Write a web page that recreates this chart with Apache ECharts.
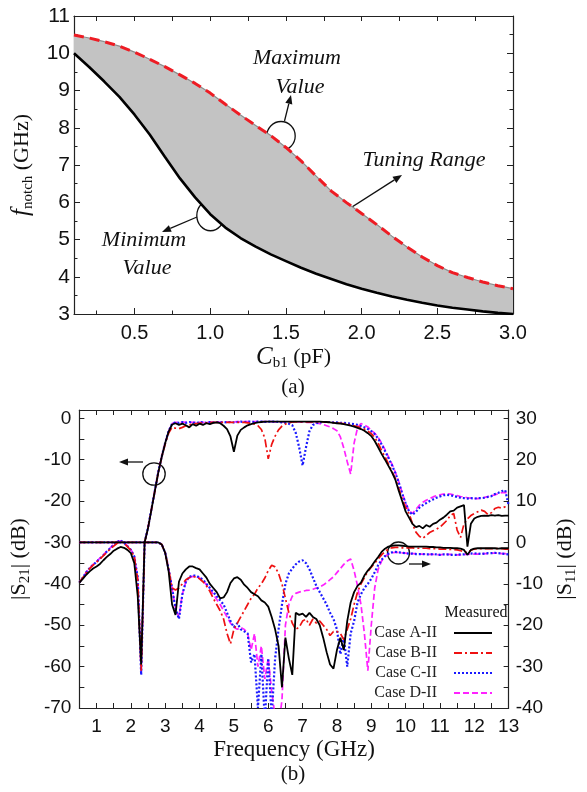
<!DOCTYPE html>
<html>
<head>
<meta charset="utf-8">
<script src="https://cdn.jsdelivr.net/npm/echarts@6.0.0/dist/echarts.min.js"></script>
<style>
    html, body { margin: 0; padding: 0; background: #fff; }
    #chart { width: 587px; height: 792px; }
</style>
</head>
<body>
<div id="chart"></div>
<script>
// ---- panel (a): notch frequency vs Cb1 ----
const capVals = [0.1, 0.2, 0.3, 0.4, 0.5, 0.6, 0.7, 0.8, 0.9, 1.0,
    1.1, 1.2, 1.3, 1.4, 1.5, 1.6, 1.7, 1.8, 1.9, 2.0,
    2.1, 2.2, 2.3, 2.4, 2.5, 2.6, 2.7, 2.8, 2.9, 3.0];
const fMax = [10.49, 10.41, 10.31, 10.19, 10.03, 9.84, 9.64, 9.42, 9.19, 8.93,
    8.63, 8.34, 8.06, 7.79, 7.47, 7.11, 6.70, 6.30, 5.99, 5.70,
    5.40, 5.09, 4.80, 4.53, 4.30, 4.11, 3.98, 3.86, 3.76, 3.68];
const fMin = [10.00, 9.63, 9.24, 8.83, 8.35, 7.82, 7.22, 6.64, 6.13, 5.68,
    5.32, 5.04, 4.81, 4.60, 4.42, 4.24, 4.08, 3.94, 3.80, 3.68,
    3.57, 3.47, 3.38, 3.30, 3.23, 3.17, 3.12, 3.07, 3.03, 3.00];
const capLabels = [0.5, 1.0, 1.5, 2.0, 2.5, 3.0];
const capMinor = [0.25, 0.75, 1.25, 1.75, 2.25, 2.75];
const capTop = [0.25, 0.5, 0.75, 1.0, 1.25, 1.5, 1.75, 2.0, 2.25, 2.5, 2.75];

// ---- panel (b): measured S-parameters, 0.5 .. 13 GHz every 0.1 GHz ----
const freq = [];
for (let i = 0; i <= 125; i++) freq.push(+(0.5 + i * 0.1).toFixed(1));

const caseNames = ["Case A-II", "Case B-II", "Case C-II", "Case D-II"];

// |S21| (dB), left axis
const s21A = [
    -39.7, -38.8, -37.8, -37.0, -36.3, -35.8, -35.2, -34.3, -33.5, -32.8,
    -32.0, -31.5, -31.1, -31.3, -31.8, -32.6, -35.0, -43.0, -59.5, -30.0,
    -26.5, -22.0, -17.5, -13.0, -9.3, -6.0, -3.2, -1.5, -1.2, -1.6,
    -1.3, -1.7, -2.2, -1.4, -1.8, -1.3, -1.6, -1.2, -1.4, -1.1,
    -1.0, -1.2, -1.8, -2.6, -4.4, -8.1, -4.2, -2.8, -2.2, -1.7,
    -1.4, -1.2, -1.0, -0.9, -0.8, -0.8, -0.8, -0.8, -0.8, -0.8,
    -0.8, -0.8, -0.8, -0.8, -0.8, -0.8, -0.8, -0.8, -0.8, -0.8,
    -0.8, -0.85, -0.9, -1.0, -1.1, -1.2, -1.3, -1.4, -1.6, -1.8,
    -2.0, -2.3, -2.6, -3.0, -3.6, -4.3, -5.5, -7.0, -8.6, -10.0,
    -11.5, -13.0, -14.8, -17.5, -20.0, -22.5, -24.0, -25.5, -26.3, -26.0,
    -26.6, -25.8, -26.2, -25.5, -25.2, -24.5, -24.0, -23.3, -22.5, -22.3,
    -21.6, -21.3, -21.0, -31.0, -25.5, -24.2, -23.8, -23.6, -23.5, -23.6,
    -23.4, -23.5, -23.4, -23.6, -23.5, -23.5];
const s21B = [
    -39.7, -38.5, -37.3, -36.3, -35.5, -34.8, -34.0, -33.2, -32.4, -31.6,
    -30.9, -30.2, -29.8, -30.2, -31.0, -31.9, -33.5, -39.0, -61.0, -30.0,
    -26.5, -22.0, -17.5, -13.0, -9.3, -6.2, -3.6, -2.2, -2.4, -2.5,
    -2.2, -1.8, -1.6, -1.4, -1.3, -1.2, -1.1, -1.1, -1.0, -1.0,
    -1.0, -1.0, -1.0, -1.0, -1.0, -1.0, -1.0, -1.0, -1.0, -1.1,
    -1.2, -1.4, -1.8, -2.7, -4.8, -9.8, -6.3, -4.3, -2.8, -1.9,
    -1.4, -1.1, -0.9, -0.9, -0.9, -0.9, -0.9, -0.9, -0.9, -0.9,
    -0.9, -0.9, -0.95, -1.0, -1.05, -1.1, -1.2, -1.3, -1.4, -1.6,
    -1.8, -2.0, -2.3, -2.6, -3.1, -3.7, -4.6, -6.0, -7.8, -9.3,
    -11.0, -12.8, -14.5, -17.0, -19.5, -21.5, -23.0, -25.5, -27.5, -28.5,
    -29.0, -28.3, -27.6, -27.2, -26.8, -26.3, -25.5, -24.7, -23.5, -23.0,
    -27.0, -28.8, -25.5, -24.3, -23.5, -23.0, -22.6, -22.2, -22.5, -23.3,
    -22.8, -21.8, -21.5, -21.7, -21.4, -21.4];
const s21C = [
    -39.7, -38.5, -37.2, -36.2, -35.4, -34.7, -33.9, -33.1, -32.2, -31.4,
    -30.6, -29.9, -29.5, -30.1, -30.9, -31.8, -33.4, -38.5, -62.0, -30.0,
    -26.4, -21.9, -17.4, -12.9, -9.2, -5.9, -3.1, -1.3, -1.0, -1.1,
    -0.9, -1.1, -0.9, -1.0, -1.2, -0.9, -1.0, -1.1, -0.9, -1.0,
    -0.9, -1.0, -0.9, -1.0, -0.9, -1.0, -0.9, -0.8, -0.9, -0.8,
    -0.8, -0.9, -0.8, -0.8, -0.9, -0.8, -0.8, -0.8, -0.9, -1.0,
    -1.1, -1.3, -1.7, -3.5, -7.0, -11.4, -7.0, -3.1, -1.6, -1.2,
    -1.0, -0.9, -0.9, -0.9, -1.0, -1.0, -1.1, -1.1, -1.2, -1.3,
    -1.4, -1.6, -1.9, -2.2, -2.6, -3.1, -3.8, -4.9, -6.3, -7.9,
    -9.6, -11.3, -13.2, -15.5, -18.2, -20.5, -22.5, -23.3, -22.6, -21.6,
    -21.0, -20.5, -20.0, -19.6, -19.2, -18.9, -18.6, -18.5, -18.6, -18.8,
    -19.0, -19.2, -19.3, -19.4, -19.3, -19.4, -19.3, -19.3, -19.2, -19.0,
    -18.8, -18.3, -18.0, -17.6, -17.4, -21.0];
const s21D = [
    -39.7, -38.5, -37.2, -36.2, -35.3, -34.6, -33.8, -33.0, -32.1, -31.3,
    -30.5, -29.8, -29.6, -30.0, -30.8, -31.7, -33.3, -38.7, -61.5, -30.0,
    -26.4, -21.9, -17.4, -12.9, -9.2, -5.9, -3.1, -1.3, -1.0, -1.0,
    -1.0, -0.9, -1.0, -1.0, -0.9, -1.0, -1.0, -0.9, -1.0, -0.9,
    -0.9, -0.9, -1.0, -0.9, -0.9, -0.9, -0.8, -0.9, -0.8, -0.8,
    -0.8, -0.8, -0.8, -0.8, -0.8, -0.8, -0.8, -0.9, -0.9, -0.9,
    -0.9, -0.9, -0.9, -0.9, -0.9, -0.9, -1.0, -1.0, -1.0, -1.1,
    -1.3, -1.5, -1.8, -2.1, -2.5, -3.0, -4.5, -7.2, -10.5, -13.5,
    -6.0, -2.3, -1.3, -1.6, -2.1, -2.9, -3.6, -4.6, -6.0, -7.6,
    -9.3, -11.0, -13.0, -15.3, -18.0, -20.5, -22.3, -23.0, -22.0, -21.0,
    -20.3, -19.8, -19.4, -19.0, -18.7, -18.5, -18.3, -18.2, -18.3, -18.5,
    -18.7, -18.9, -19.0, -19.2, -19.3, -19.4, -19.4, -19.2, -19.1, -18.9,
    -18.7, -18.5, -18.2, -18.0, -17.9, -18.2];

// |S11| (dB), right axis
const s11A = [
    0, 0, 0, 0, 0, 0, 0, 0, 0, 0,
    0, 0, 0, 0, 0, 0, 0, 0, 0, 0,
    0, 0, 0, 0, -0.5, -2.5, -7.0, -15.0, -17.5, -9.5,
    -7.5, -6.5, -5.8, -5.8, -6.2, -6.5, -7.5, -8.5, -10.0, -11.0,
    -12.0, -13.5, -13.3, -12.0, -9.8, -8.7, -8.4, -9.0, -10.2, -11.0,
    -12.0, -12.5, -13.0, -14.0, -14.5, -15.5, -18.0, -21.0, -25.0, -35.0,
    -23.0, -28.0, -32.0, -17.0, -17.5, -17.2, -18.0, -17.0, -18.0, -18.5,
    -20.0, -23.0, -26.5, -29.5, -30.5, -26.0, -23.0, -26.0, -19.0, -14.5,
    -12.0, -10.5, -9.7, -8.0, -6.8, -5.8, -4.6, -3.5, -2.3, -1.5,
    -1.0, -0.8, -0.7, -0.7, -0.8, -0.9, -1.0, -1.0, -1.0, -1.0,
    -1.0, -1.0, -1.1, -1.1, -1.2, -1.2, -1.3, -1.3, -1.3, -1.4,
    -1.4, -1.5, -1.8, -3.0, -1.8, -1.5, -1.4, -1.4, -1.4, -1.4,
    -1.4, -1.4, -1.5, -1.4, -1.4, -1.4];
const s11B = [
    0, 0, 0, 0, 0, 0, 0, 0, 0, 0,
    0, 0, 0, 0, 0, 0, 0, 0, 0, 0,
    0, 0, 0, 0, -0.5, -2.5, -6.5, -11.0, -11.5, -11.0,
    -10.0, -9.0, -8.5, -8.3, -8.3, -8.8, -9.5, -10.5, -11.8, -13.5,
    -15.0, -16.5, -18.5, -22.0, -24.5, -21.0, -19.5, -18.0, -16.5, -15.0,
    -13.5, -12.5, -11.0, -10.0, -8.6, -6.8, -5.5, -5.9, -7.5, -10.0,
    -13.5, -17.0, -19.5, -21.0, -20.5, -19.0, -18.5, -20.0, -18.5, -19.5,
    -19.0, -20.0, -21.0, -22.5, -21.5, -21.5, -22.0, -23.5, -21.0, -18.5,
    -15.0, -12.0, -10.0, -8.5, -7.0, -6.0, -5.0, -4.0, -3.0, -2.2,
    -1.6, -1.3, -1.2, -1.2, -1.3, -1.3, -1.3, -1.3, -1.4, -1.4,
    -1.4, -1.4, -1.5, -1.5, -1.5, -1.6, -1.6, -1.6, -1.7, -1.7,
    -1.8, -2.0, -2.2, -2.5, -1.9, -1.6, -1.5, -1.5, -1.5, -1.5,
    -1.5, -1.5, -1.5, -1.5, -1.6, -1.6];
const s11C = [
    0, 0, 0, 0, 0, 0, 0, 0, 0, 0,
    0, 0, 0, 0, 0, 0, 0, 0, 0, 0,
    0, 0, 0, 0, -0.5, -2.5, -6.5, -11.0, -16.0, -18.5,
    -12.5, -9.5, -8.3, -8.0, -8.0, -8.5, -9.0, -10.0, -11.0, -12.0,
    -13.0, -14.0, -15.0, -17.0, -19.0, -20.5, -19.5, -21.0, -21.5, -22.0,
    -29.0, -27.0, -40.0, -27.0, -43.0, -28.0, -42.0, -28.0, -21.0, -15.0,
    -10.0, -7.5, -6.3, -5.3, -4.6, -4.3, -5.0, -6.5, -8.5, -10.5,
    -12.0, -13.5, -15.0, -17.0, -18.5, -21.0, -27.0, -23.0, -30.0, -22.0,
    -19.0, -14.5, -12.5, -11.0, -10.0, -8.8, -7.2, -5.5, -4.2, -3.3,
    -2.7, -2.4, -2.3, -2.4, -2.5, -2.6, -2.7, -2.7, -2.8, -2.8,
    -2.8, -2.9, -2.9, -2.8, -2.9, -3.0, -2.9, -2.9, -3.0, -3.0,
    -3.0, -2.9, -2.9, -2.8, -2.7, -2.6, -2.7, -2.8, -2.7, -2.6,
    -2.6, -2.5, -2.6, -2.7, -2.8, -2.9];
const s11D = [
    0, 0, 0, 0, 0, 0, 0, 0, 0, 0,
    0, 0, 0, 0, 0, 0, 0, 0, 0, 0,
    0, 0, 0, 0, -0.5, -2.5, -6.5, -11.0, -16.0, -18.0,
    -12.5, -9.5, -8.5, -8.2, -8.2, -8.6, -9.2, -10.2, -11.3, -12.5,
    -13.8, -15.0, -16.5, -18.0, -19.5, -20.5, -21.0, -20.5, -21.0, -22.0,
    -26.0, -22.0, -30.0, -25.0, -33.0, -28.0, -36.0, -42.0, -45.0, -38.0,
    -20.0, -15.0, -13.0, -12.3, -12.0, -11.8, -11.6, -11.5, -11.3, -11.0,
    -10.8, -10.3, -9.7, -9.0, -8.3, -7.3, -6.3, -5.3, -4.5, -4.0,
    -6.8, -10.5, -15.0, -22.0, -31.0, -20.0, -11.0, -6.5, -4.5, -3.4,
    -2.8, -2.5, -2.4, -2.4, -2.5, -2.6, -2.7, -2.7, -2.7, -2.8,
    -2.8, -2.8, -2.9, -2.9, -2.9, -3.0, -2.9, -2.9, -2.9, -3.0,
    -3.0, -3.0, -2.9, -2.9, -2.8, -2.8, -2.8, -2.7, -2.7, -2.7,
    -2.6, -2.6, -2.6, -2.7, -2.7, -2.8];

const SANS = "Liberation Sans";
const SERIF = "Liberation Serif";
const INK = "#111";

function pairs(xs, ys) {
    return xs.map(function (x, i) { return [x, ys[i]]; });
}

function frameAxis(extra) {
    return Object.assign({
        type: "value",
        axisLine: { show: true, onZero: false, lineStyle: { color: "#222", width: 1.2 } },
        axisTick: { show: true, inside: true, length: 5, lineStyle: { color: "#222", width: 1 } },
        axisLabel: { show: false },
        splitLine: { show: false },
    }, extra);
}

// arrow = shaft + filled head
function arrow(x1, y1, x2, y2) {
    const a = Math.atan2(y2 - y1, x2 - x1);
    const len = 9, half = 3.6;
    const bx = x2 - len * Math.cos(a), by = y2 - len * Math.sin(a);
    const px = -Math.sin(a) * half, py = Math.cos(a) * half;
    return [
        { type: "line", shape: { x1: x1, y1: y1, x2: bx, y2: by }, style: { stroke: INK, lineWidth: 1.3 } },
        { type: "polygon", shape: { points: [[x2, y2], [bx + px, by + py], [bx - px, by - py]] }, style: { fill: INK } },
    ];
}

function ring(cx, cy, rx, ry) {
    return {
        type: "circle", x: cx, y: cy, scaleY: ry / rx,
        shape: { cx: 0, cy: 0, r: rx },
        style: { fill: "transparent", stroke: INK, lineWidth: 1.3, strokeNoScale: true },
    };
}

function label(x, y, text, font) {
    return {
        type: "text", x: x, y: y,
        style: { text: text, font: font, fill: INK, align: "center", verticalAlign: "middle", textAlign: "center", textVerticalAlign: "middle" },
    };
}

const ITALIC = "italic 22px '" + SERIF + "'";

let chart = echarts.init(document.getElementById("chart"));

const lineStyles = [
    { color: "#000000", width: 1.8, type: "solid" },
    { color: "#ee1111", width: 1.7, type: [8, 3, 2, 3] },
    { color: "#1a1aff", width: 2.2, type: [2, 2] },
    { color: "#ff22ff", width: 1.7, type: [6, 3] },
];
const s21All = [s21A, s21B, s21C, s21D];
const s11All = [s11A, s11B, s11C, s11D];

let bottomSeries = [];
for (let k = 3; k >= 0; k--) {
    bottomSeries.push({
        name: caseNames[k], type: "line", xAxisIndex: 3, yAxisIndex: 2,
        data: pairs(freq, s21All[k]), symbol: "none", z: 3 + (3 - k),
        lineStyle: lineStyles[k], itemStyle: { color: lineStyles[k].color },
    });
    bottomSeries.push({
        name: caseNames[k], type: "line", xAxisIndex: 3, yAxisIndex: 3,
        data: pairs(freq, s11All[k]), symbol: "none", z: 3 + (3 - k),
        lineStyle: lineStyles[k], itemStyle: { color: lineStyles[k].color },
    });
}

const richName = {
    i: { fontFamily: SERIF, fontStyle: "italic", fontSize: 25, color: INK, lineHeight: 28 },
    s: { fontFamily: SERIF, fontSize: 15, color: INK, lineHeight: 14, verticalAlign: "bottom" },
    n: { fontFamily: SERIF, fontSize: 22, color: INK, lineHeight: 28 },
};

chart.setOption({
    animation: false,
    backgroundColor: "#fff",
    grid: [
        { left: 74, top: 16, width: 439, height: 298 },
        { left: 73, top: 410, width: 440, height: 298 },
    ],
    xAxis: [
        frameAxis({
            gridIndex: 0, min: 0.1, max: 3.0, position: "bottom",
            axisTick: { show: true, inside: true, length: 6, customValues: capLabels, lineStyle: { color: "#222" } },
            axisLabel: {
                show: true, customValues: capLabels, margin: 9, color: INK, fontFamily: SANS, fontSize: 20,
                formatter: function (v) { return v.toFixed(1); },
            },
            name: "{i|C}{s|b1}{n| (pF)}", nameLocation: "middle", nameGap: 29,
            nameTextStyle: { rich: richName },
        }),
        frameAxis({
            gridIndex: 0, min: 0.1, max: 3.0, position: "top",
            axisTick: { show: true, inside: true, length: 5, customValues: capTop, lineStyle: { color: "#222" } },
        }),
        frameAxis({
            gridIndex: 0, min: 0.1, max: 3.0, position: "bottom",
            axisLine: { show: false },
            axisTick: { show: true, inside: true, length: 3.5, customValues: capMinor, lineStyle: { color: "#222" } },
        }),
        frameAxis({
            gridIndex: 1, min: 0.5, max: 13, interval: 0.5, position: "bottom",
            axisLabel: {
                show: true, margin: 9, color: INK, fontFamily: SANS, fontSize: 19,
                formatter: function (v) { return Number.isInteger(v) ? String(v) : ""; },
            },
            name: "Frequency (GHz)", nameLocation: "middle", nameGap: 30,
            nameTextStyle: { fontFamily: SERIF, fontSize: 23, color: INK },
        }),
        frameAxis({ gridIndex: 1, min: 0.5, max: 13, interval: 0.5, position: "top" }),
    ],
    yAxis: [
        frameAxis({
            gridIndex: 0, min: 3, max: 11, interval: 1, position: "left",
            axisTick: { show: true, inside: true, length: 6, lineStyle: { color: "#222" } },
            minorTick: { show: true, splitNumber: 2, length: 3.5, lineStyle: { color: "#222" } },
            axisLabel: { show: true, margin: 4, color: INK, fontFamily: SANS, fontSize: 21 },
            name: "{i|f}{s|notch}{n| (GHz)}", nameLocation: "middle", nameRotate: 90, nameGap: 34,
            nameTextStyle: { rich: richName },
        }),
        frameAxis({
            gridIndex: 0, min: 3, max: 11, interval: 1, position: "right",
            axisTick: { show: true, inside: true, length: 6, lineStyle: { color: "#222" } },
            minorTick: { show: true, splitNumber: 2, length: 3.5, lineStyle: { color: "#222" } },
        }),
        frameAxis({
            gridIndex: 1, min: -70, max: 2, interval: 5, position: "left",
            axisLabel: {
                show: true, margin: 8, color: INK, fontFamily: SANS, fontSize: 19,
                formatter: function (v) { return v % 10 === 0 ? String(v) : ""; },
            },
            name: "{n||S}{s|21}{n|| (dB)}", nameLocation: "middle", nameRotate: 90, nameGap: 44,
            nameTextStyle: { rich: richName },
        }),
        frameAxis({
            gridIndex: 1, min: -40, max: 32, interval: 5, position: "right",
            axisLabel: {
                show: true, margin: 7, color: INK, fontFamily: SANS, fontSize: 19,
                formatter: function (v) { return v % 10 === 0 ? String(v) : ""; },
            },
            name: "{n||S}{s|11}{n|| (dB)}", nameLocation: "middle", nameRotate: 90, nameGap: 42,
            nameTextStyle: { rich: richName },
        }),
    ],
    legend: {
        data: caseNames,
        orient: "vertical", align: "right", right: 94, top: 625,
        itemWidth: 38, itemHeight: 12, itemGap: 4, padding: 0,
        selectedMode: false,
        itemStyle: { opacity: 0 },
        textStyle: { fontFamily: SERIF, fontSize: 16, color: "#222", lineHeight: 16, padding: [0, 12, 0, 0] },
    },
    series: [
        {
            // tuning range: band between the minimum and maximum curves
            type: "custom", xAxisIndex: 0, yAxisIndex: 0, silent: true, z: 1,
            data: [[capVals[0], fMin[0]]],
            renderItem: function (params, api) {
                let pts = [];
                for (let i = 0; i < capVals.length; i++) pts.push(api.coord([capVals[i], fMax[i]]));
                for (let i = capVals.length - 1; i >= 0; i--) pts.push(api.coord([capVals[i], fMin[i]]));
                return { type: "polygon", shape: { points: pts }, style: { fill: "#c3c3c3", stroke: null } };
            },
        },
        {
            type: "line", xAxisIndex: 0, yAxisIndex: 0,
            data: pairs(capVals, fMax), symbol: "none",
            lineStyle: { color: "#8c8c8c", width: 1.2 }, z: 2,
        },
        {
            type: "line", xAxisIndex: 0, yAxisIndex: 0,
            data: pairs(capVals, fMin), symbol: "none",
            lineStyle: { color: "#000", width: 2.6 }, z: 3,
        },
        {
            type: "line", xAxisIndex: 0, yAxisIndex: 0,
            data: pairs(capVals, fMax), symbol: "none",
            lineStyle: { color: "#ee1c24", width: 3, type: [10, 6] }, z: 3,
        },
    ].concat(bottomSeries),
    graphic: {
        elements: [
            label(297, 58, "Maximum", ITALIC),
            label(300, 87, "Value", ITALIC),
            ring(281, 136, 14.2, 14.5),
            label(424, 160, "Tuning Range", ITALIC),
            label(144, 240, "Minimum", ITALIC),
            label(147, 268, "Value", ITALIC),
            ring(210.5, 215.5, 13.7, 15.3),
            label(293, 387, "(a)", "21px '" + SERIF + "'"),
            ring(154, 474, 11.2, 11.2),
            ring(398.5, 553, 11, 11),
            label(476, 613, "Measured", "16px '" + SERIF + "'"),
            label(293, 774, "(b)", "21px '" + SERIF + "'"),
        ]
            .concat(arrow(284.5, 121, 291, 95))
            .concat(arrow(316, 230, 402, 175))
            .concat(arrow(197, 217, 162, 232))
            .concat(arrow(143, 462, 119, 462))
            .concat(arrow(409, 564, 431, 564)),
    },
});

window.addEventListener("resize", function () {
    chart.resize();
});
</script>
</body>
</html>
